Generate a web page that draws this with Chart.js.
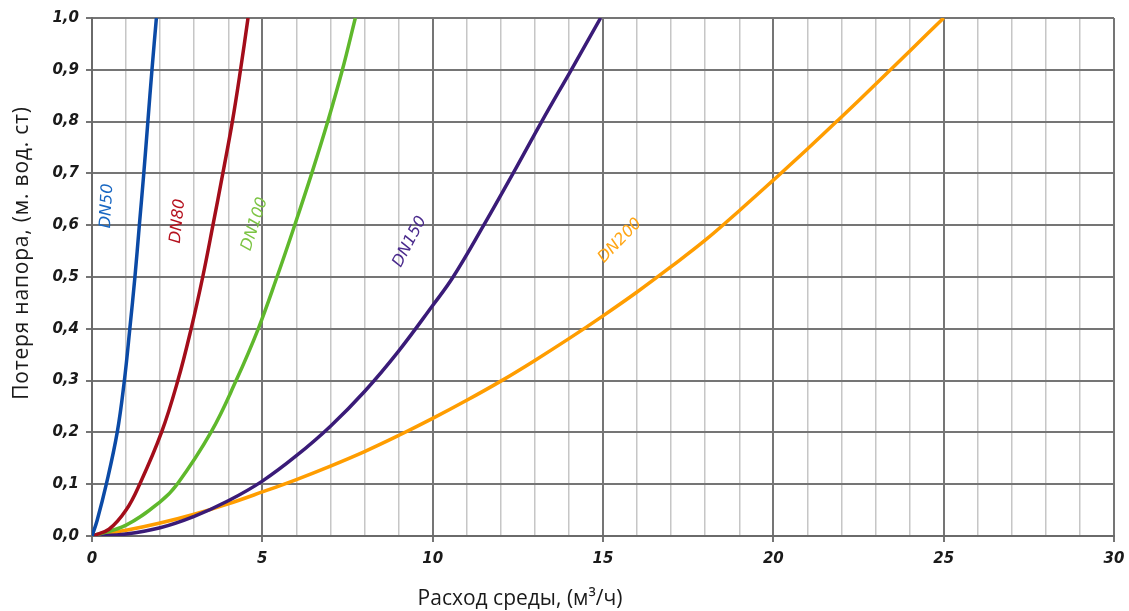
<!DOCTYPE html>
<html>
<head>
<meta charset="utf-8">
<script src="https://cdn.jsdelivr.net/npm/chart.js@4/dist/chart.umd.min.js"></script>
<style>
  html, body { margin: 0; padding: 0; background: #fff; }
  #wrap { width: 1129px; height: 611px; position: relative; }
</style>
</head>
<body>
<div id="wrap"><canvas id="lossChart"></canvas></div>
<script>
// flow (m3/h) vs head loss (m), one pair of arrays per pipe size
const dn50Flow  = [0, 0.15, 0.42, 0.74, 0.95, 1.11, 1.26, 1.39, 1.52, 1.64, 1.76, 1.89];
const dn50Loss  = [0, 0.03, 0.1, 0.2, 0.3, 0.4, 0.5, 0.6, 0.7, 0.8, 0.9, 1.0];

const dn80Flow  = [0, 0.5, 1.0, 1.40, 2.04, 2.52, 2.91, 3.25, 3.55, 3.84, 4.12, 4.36, 4.58];
const dn80Loss  = [0, 0.013, 0.05, 0.1, 0.2, 0.3, 0.4, 0.5, 0.6, 0.7, 0.8, 0.9, 1.0];

const dn100Flow = [0, 1, 2, 2.5, 3.49, 4.23, 4.88, 5.43, 5.95, 6.45, 6.92, 7.35, 7.73];
const dn100Loss = [0, 0.021, 0.066, 0.1, 0.2, 0.3, 0.4, 0.5, 0.6, 0.7, 0.8, 0.9, 1.0];

const dn150Flow = [0, 1, 2, 3, 4, 5, 6, 7, 8, 9, 10, 10.6, 11.5, 12.36, 13.2, 14.07, 14.93];
const dn150Loss = [0, 0.004, 0.016, 0.038, 0.068, 0.106, 0.155, 0.212, 0.279, 0.357, 0.445, 0.5, 0.6, 0.7, 0.8, 0.9, 1.0];

const dn200Flow = [0, 1, 2, 3, 4, 5, 6, 7, 8, 9, 10, 11, 12, 13, 14, 15, 16, 17, 18, 19, 20, 21, 22, 23, 24, 25];
const dn200Loss = [0, 0.011, 0.025, 0.042, 0.062, 0.085, 0.109, 0.135, 0.163, 0.194, 0.227, 0.262, 0.299, 0.339,
                   0.381, 0.425, 0.471, 0.52, 0.571, 0.628, 0.687, 0.747, 0.809, 0.872, 0.936, 1.0];

const seriesNames  = ['DN50', 'DN80', 'DN100', 'DN150', 'DN200'];
const lineColors   = ['#0b4aa6', '#a30d1a', '#5fb82c', '#3a1b78', '#ff9d00'];
const labelColors  = ['#1766c2', '#b5121f', '#7cc444', '#4a2a8c', '#ffa514'];

// where the curve names sit (data units) and how much they are turned
const labelFlow  = [0.44, 2.52, 4.78, 9.33, 15.5];
const labelLoss  = [0.637, 0.608, 0.602, 0.568, 0.57];
const labelAngle = [-87, -84, -72, -62, -46];

const xTitle = 'Расход среды, (м³/ч)';
const yTitle = 'Потеря напора, (м. вод. ст)';

function toPoints(xs, ys) {
    return xs.map((x, i) => ({ x: x, y: ys[i] }));
}

const allFlows = [dn50Flow, dn80Flow, dn100Flow, dn150Flow, dn200Flow];
const allLosses = [dn50Loss, dn80Loss, dn100Loss, dn150Loss, dn200Loss];

const datasets = seriesNames.map((name, i) => ({
    label: name,
    data: toPoints(allFlows[i], allLosses[i]),
    borderColor: lineColors[i],
    borderWidth: 3.5,
    pointRadius: 0,
    showLine: true,
    fill: false,
    tension: 0.4
}));

const curveLabels = {
    id: 'curveLabels',
    afterDatasetsDraw(chart) {
        const ctx = chart.ctx;
        const xs = chart.scales.x, ys = chart.scales.y;
        ctx.save();
        ctx.font = 'italic 16px "DejaVu Sans"';
        ctx.textAlign = 'center';
        ctx.textBaseline = 'middle';
        seriesNames.forEach((name, i) => {
            ctx.save();
            ctx.translate(xs.getPixelForValue(labelFlow[i]), ys.getPixelForValue(labelLoss[i]));
            ctx.rotate(labelAngle[i] * Math.PI / 180);
            ctx.fillStyle = labelColors[i];
            ctx.fillText(name, 0, 0);
            ctx.restore();
        });
        ctx.restore();
    },
    afterDraw(chart) {
        const ctx = chart.ctx;
        ctx.save();
        ctx.fillStyle = '#1a1a1a';
        ctx.font = '21px "Open Sans"';
        ctx.textAlign = 'center';
        ctx.textBaseline = 'alphabetic';
        ctx.fillText(xTitle, 520, 605);
        ctx.letterSpacing = '0.8px';
        ctx.translate(28, 253);
        ctx.rotate(-Math.PI / 2);
        ctx.fillText(yTitle, 0, 0);
        ctx.restore();
    }
};

new Chart(document.getElementById('lossChart'), {
    type: 'scatter',
    data: { datasets: datasets },
    options: {
        responsive: true,
        maintainAspectRatio: false,
        animation: false,
        layout: { padding: { top: 18, right: 15, left: 0, bottom: 0 } },
        plugins: {
            legend: { display: false },
            tooltip: { enabled: false }
        },
        scales: {
            x: {
                type: 'linear',
                min: 0,
                max: 30,
                afterFit: s => { s.height = 75; s.paddingLeft = 0; s.paddingRight = 0; },
                ticks: {
                    stepSize: 1,
                    autoSkip: false,
                    maxRotation: 0,
                    padding: 8,
                    color: '#1a1a1a',
                    font: { family: 'DejaVu Sans', size: 15, style: 'italic', weight: 'bold' },
                    callback: v => (v % 5 === 0 ? String(v) : '')
                },
                grid: {
                    color: c => (c.tick && c.tick.value % 5 === 0 ? '#757575' : '#c6c6c6'),
                    lineWidth: c => (c.tick && c.tick.value % 5 === 0 ? 2 : 1.5),
                    tickColor: c => (c.tick && c.tick.value % 5 === 0 ? '#757575' : 'rgba(0,0,0,0)'),
                    tickLength: 6
                },
                border: { color: '#6a6a6a', width: 2 }
            },
            y: {
                type: 'linear',
                min: 0,
                max: 1,
                afterFit: s => { s.width = 92; s.paddingTop = 0; s.paddingBottom = 0; },
                ticks: {
                    stepSize: 0.1,
                    padding: 7,
                    color: '#1a1a1a',
                    font: { family: 'DejaVu Sans', size: 15, style: 'italic', weight: 'bold' },
                    callback: v => v.toFixed(1).replace('.', ',')
                },
                grid: {
                    color: '#757575',
                    lineWidth: 2,
                    tickColor: '#757575',
                    tickLength: 6
                },
                border: { color: '#6a6a6a', width: 2 }
            }
        }
    },
    plugins: [curveLabels]
});
</script>
</body>
</html>
